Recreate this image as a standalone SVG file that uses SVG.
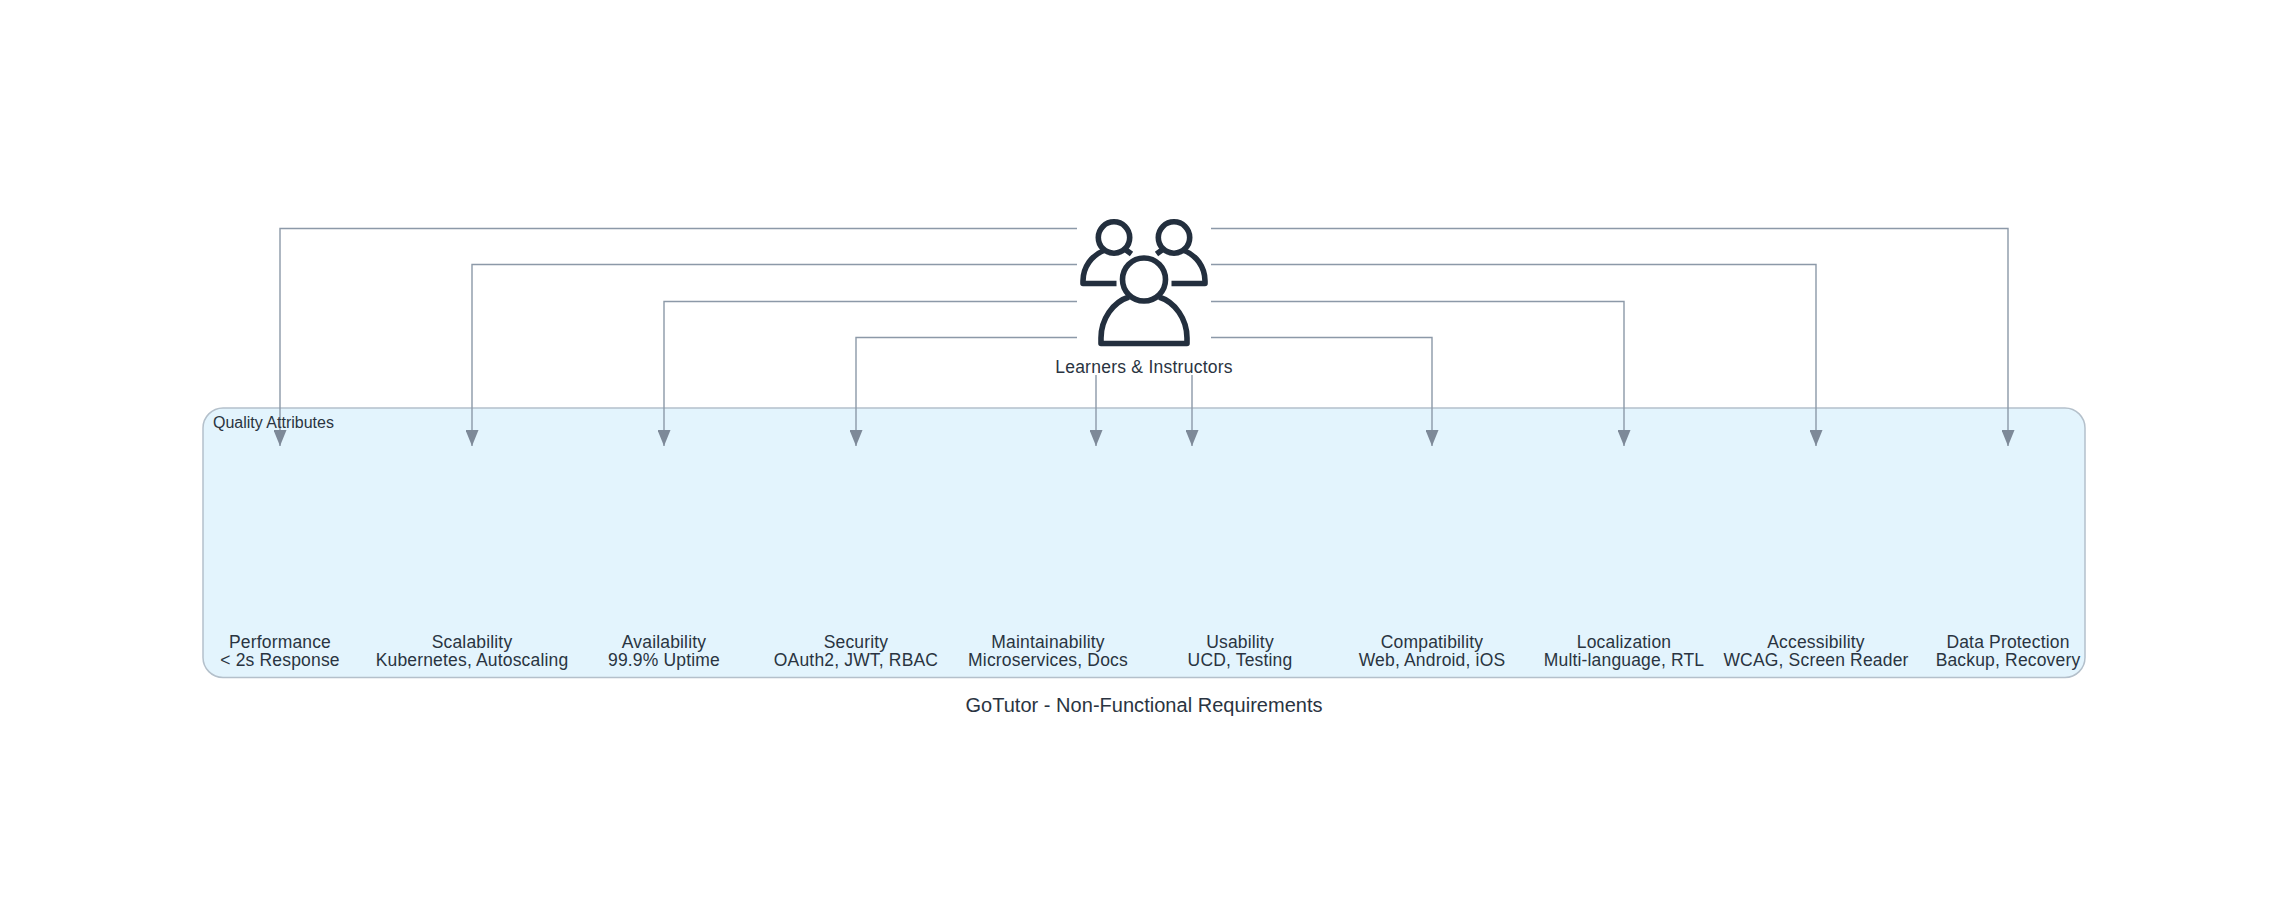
<svg xmlns="http://www.w3.org/2000/svg" width="2288" height="912" viewBox="0 0 2288 912">
<style>
text{font-family:"Liberation Sans",Arial,sans-serif;fill:#2a3441;font-size:17.5px;text-anchor:middle;letter-spacing:.17px}
.c{fill:none;stroke:#8c99a8;stroke-width:1.4}
.i{fill:none;stroke:#232f3e;stroke-width:5.600;stroke-linejoin:round}
</style>
<defs><marker id="a" markerUnits="userSpaceOnUse" markerWidth="16" markerHeight="13" refX="16" refY="6.500" orient="auto" viewBox="0 0 16 13"><path d="M0 0L16 6.500L0 13Z" fill="#7d8998"/></marker></defs>
<rect id="cluster" x="203" y="408" width="1882" height="269.500" rx="20" fill="#e3f4fd" stroke="#b4c0cb" stroke-width="1.5"/>
<g id="connectors">
<path class="c" d="M1077 228.500H280V446" marker-end="url(#a)"/>
<path class="c" d="M1077 264.500H472V446" marker-end="url(#a)"/>
<path class="c" d="M1077 301.500H664V446" marker-end="url(#a)"/>
<path class="c" d="M1077 337.500H856V446" marker-end="url(#a)"/>
<path class="c" d="M1096 375V446" marker-end="url(#a)"/>
<path class="c" d="M1192 375V446" marker-end="url(#a)"/>
<path class="c" d="M1211 337.500H1432V446" marker-end="url(#a)"/>
<path class="c" d="M1211 301.500H1624V446" marker-end="url(#a)"/>
<path class="c" d="M1211 264.500H1816V446" marker-end="url(#a)"/>
<path class="c" d="M1211 228.500H2008V446" marker-end="url(#a)"/>
</g>
<g id="users">
<circle class="i" cx="1114" cy="237.500" r="15.700"/><circle class="i" cx="1174" cy="237.500" r="15.700"/>
<path class="i" d="M1116.500 283.500H1083V281C1083 267 1092 255 1104 250.500M1171.500 283.500H1205V281C1205 267 1196 255 1184 250.500M1126 250L1131.500 254M1162 250L1156.500 254"/>
<circle class="i" cx="1144" cy="279.500" r="21.500"/>
<path class="i" d="M1129 297C1113 302 1101 319 1101 338V343.500H1187V338C1187 319 1175 302 1159 297"/>
<text x="1144" y="372.500" style="letter-spacing:.25px">Learners &amp; Instructors</text>
</g>
<g id="n-perf"><text x="280" y="647.500">Performance</text><text x="280" y="666">&lt; 2s Response</text></g>
<g id="n-scale"><text x="472" y="647.500">Scalability</text><text x="472" y="666">Kubernetes, Autoscaling</text></g>
<g id="n-avail"><text x="664" y="647.500">Availability</text><text x="664" y="666">99.9% Uptime</text></g>
<g id="n-sec"><text x="856" y="647.500">Security</text><text x="856" y="666">OAuth2, JWT, RBAC</text></g>
<g id="n-maint"><text x="1048" y="647.500">Maintainability</text><text x="1048" y="666">Microservices, Docs</text></g>
<g id="n-use"><text x="1240" y="647.500">Usability</text><text x="1240" y="666">UCD, Testing</text></g>
<g id="n-compat"><text x="1432" y="647.500">Compatibility</text><text x="1432" y="666">Web, Android, iOS</text></g>
<g id="n-local"><text x="1624" y="647.500">Localization</text><text x="1624" y="666">Multi-language, RTL</text></g>
<g id="n-access"><text x="1816" y="647.500">Accessibility</text><text x="1816" y="666">WCAG, Screen Reader</text></g>
<g id="n-data"><text x="2008" y="647.500">Data Protection</text><text x="2008" y="666">Backup, Recovery</text></g>
<text x="213" y="428" style="text-anchor:start;font-size:16px;letter-spacing:0">Quality Attributes</text>
<text x="1144" y="712" style="font-size:20px;letter-spacing:.03px">GoTutor - Non-Functional Requirements</text>
</svg>
